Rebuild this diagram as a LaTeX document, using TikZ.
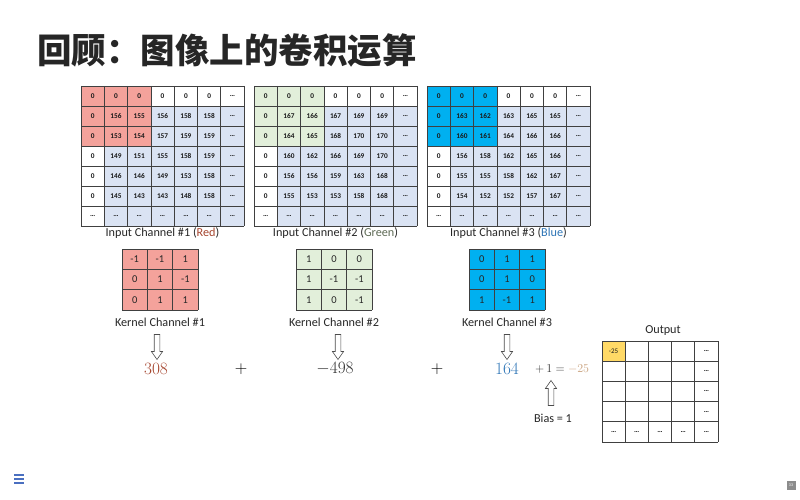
\documentclass[tikz,border=0pt]{standalone}
\usepackage{fontspec}
\setmainfont{Carlito}
\newfontfamily\cjk{Noto Sans CJK SC}
\usepackage{amsmath}
\usetikzlibrary{positioning, shapes.arrows}
\definecolor{chred}{HTML}{F4A29B}
\definecolor{chgreen}{HTML}{E2EFDA}
\definecolor{chblue}{HTML}{00B0F0}
\definecolor{padgray}{HTML}{DAE3F3}
\definecolor{outyellow}{HTML}{FFD966}
\definecolor{redtxt}{HTML}{A5452E}
\definecolor{greentxt}{HTML}{5E6A55}
\definecolor{bluetxt}{HTML}{2E75B6}
\definecolor{restxt}{HTML}{C9A27E}
\definecolor{menublue}{HTML}{4A6FC0}
\tikzset{
  gridline/.style={draw=black!75, line width=0.7pt},
  num/.style={font=\fontsize{7.3}{8}\selectfont\bfseries, text=black!90, inner sep=0pt},
  knum/.style={font=\fontsize{10.5}{12}\selectfont, text=black!85, inner sep=0pt},
  lab/.style={font=\fontsize{12.2}{14}\selectfont, text=black!85, inner sep=0pt},
  bignum/.style={font=\fontsize{18}{21}\selectfont, inner sep=0pt},
  hollowdn/.style={single arrow, draw=black!70, fill=white, line width=0.6pt,
    rotate=-90, minimum height=25pt, inner sep=2.5pt,
    single arrow head extend=2.8pt, single arrow tip angle=70},
  hollowup/.style={hollowdn, rotate=180}
}

\begin{document}
\begin{tikzpicture}[x=1pt, y=-1pt]
  \useasboundingbox (0,0) rectangle (800,500);

  % title
  \node[anchor=west, inner sep=0pt, text=black!85, font=\fontsize{34.5}{40}\selectfont\cjk\bfseries] (title) at (37,50) {回顾：图像上的卷积运算};

  % input channels
  \foreach \x/\c in {81/chred, 254/chgreen, 427/chblue} {
    \fill[padgray] (\x+23.3,106) rectangle (\x+163.1,226);
    \fill[\c] (\x,86) rectangle (\x+69.9,146);
    \foreach \i in {0,...,7}
      \draw[gridline] (\x,86+20*\i) -- (\x+163.1,86+20*\i);
    \foreach \j in {0,...,7}
      \draw[gridline] (\x+23.3*\j,86) -- (\x+23.3*\j,226);
  }
  \foreach \vals [count=\i from 0] in {{0,0,0,0,0,0,\ldots},{0,156,155,156,158,158,\ldots},{0,153,154,157,159,159,\ldots},{0,149,151,155,158,159,\ldots},{0,146,146,149,153,158,\ldots},{0,145,143,143,148,158,\ldots},{\ldots,\ldots,\ldots,\ldots,\ldots,\ldots,\ldots}}
    \foreach \v [count=\j from 0] in \vals
      \node[num] (r-\i-\j) at (92.65+23.3*\j,96+20*\i) {\v};
  \foreach \vals [count=\i from 0] in {{0,0,0,0,0,0,\ldots},{0,167,166,167,169,169,\ldots},{0,164,165,168,170,170,\ldots},{0,160,162,166,169,170,\ldots},{0,156,156,159,163,168,\ldots},{0,155,153,153,158,168,\ldots},{\ldots,\ldots,\ldots,\ldots,\ldots,\ldots,\ldots}}
    \foreach \v [count=\j from 0] in \vals
      \node[num] (g-\i-\j) at (265.65+23.3*\j,96+20*\i) {\v};
  \foreach \vals [count=\i from 0] in {{0,0,0,0,0,0,\ldots},{0,163,162,163,165,165,\ldots},{0,160,161,164,166,166,\ldots},{0,156,158,162,165,166,\ldots},{0,155,155,158,162,167,\ldots},{0,154,152,152,157,167,\ldots},{\ldots,\ldots,\ldots,\ldots,\ldots,\ldots,\ldots}}
    \foreach \v [count=\j from 0] in \vals
      \node[num] (b-\i-\j) at (438.65+23.3*\j,96+20*\i) {\v};

  \node[lab] (in1) at (162.5,233) {Input Channel \#1 (\textcolor{redtxt}{Red})};
  \node[lab] (in2) at (335.5,233) {Input Channel \#2 (\textcolor{greentxt}{Green})};
  \node[lab] (in3) at (508.5,233) {Input Channel \#3 (\textcolor{bluetxt}{Blue})};

  % kernels
  \foreach \x/\c in {122/chred, 296/chgreen, 469/chblue} {
    \fill[\c] (\x,249) rectangle (\x+76,310);
    \foreach \i in {0,...,3}
      \draw[gridline] (\x,249+20.33*\i) -- (\x+76,249+20.33*\i);
    \foreach \j in {0,...,3}
      \draw[gridline] (\x+25.33*\j,249) -- (\x+25.33*\j,310);
  }
  \foreach \vals [count=\i from 0] in {{-1,-1,1},{0,1,-1},{0,1,1}}
    \foreach \v [count=\j from 0] in \vals
      \node[knum] (kr-\i-\j) at (134.67+25.33*\j,259.2+20.33*\i) {\v};
  \foreach \vals [count=\i from 0] in {{1,0,0},{1,-1,-1},{1,0,-1}}
    \foreach \v [count=\j from 0] in \vals
      \node[knum] (kg-\i-\j) at (308.67+25.33*\j,259.2+20.33*\i) {\v};
  \foreach \vals [count=\i from 0] in {{0,1,1},{0,1,0},{1,-1,1}}
    \foreach \v [count=\j from 0] in \vals
      \node[knum] (kb-\i-\j) at (481.67+25.33*\j,259.2+20.33*\i) {\v};

  \node[lab] (k1) at (160,322) {Kernel Channel \#1};
  \node[lab] (k2) at (334,322) {Kernel Channel \#2};
  \node[lab] (k3) at (507,322) {Kernel Channel \#3};

  % arrows and sums
  \node[hollowdn] (a1) at (157,345) {};
  \node[hollowdn] (a2) at (338,345) {};
  \node[hollowdn] (a3) at (507,345) {};
  \node[bignum, text=redtxt] (n1) at (156,369) {$308$};
  \node[bignum] (p1) at (241,369) {$+$};
  \node[bignum, text=black!80] (n2) at (335,369) {$-498$};
  \node[bignum] (p2) at (437,369) {$+$};
  \node[bignum, text=bluetxt] (n3) at (507,369) {$164$};
  \node[inner sep=0pt, font=\fontsize{13}{15}\selectfont, text=black!80, anchor=west] (sum) at (535,369) {$+\,1 = \textcolor{restxt}{-25}$};
  \node[hollowup] (a4) at (551,395) {};
  \node[lab] (bias) at (553,418) {Bias = 1};

  % output
  \node[lab] (outlab) at (663,331) {Output};
  \fill[outyellow] (602,341) rectangle (625.2,361.2);
  \foreach \i in {0,...,5}
    \draw[gridline] (602,341+20.2*\i) -- (718,341+20.2*\i);
  \foreach \j in {0,...,5}
    \draw[gridline] (602+23.2*\j,341) -- (602+23.2*\j,442);
  \node[num, font=\fontsize{7}{8}\selectfont] (o-0-0) at (613.6,351.1) {-25};
  \foreach \i in {0,...,3}
    \node[num] (o-\i-4) at (706.4,351.1+20.2*\i) {\ldots};
  \foreach \j in {0,...,4}
    \node[num] (o-4-\j) at (613.6+23.2*\j,431.9) {\ldots};

  % footer
  \foreach \y in {475,479,483}
    \draw[menublue, line width=1.4pt] (14,\y) -- (24,\y);
  \node[fill=black!45, minimum size=9pt, inner sep=0pt, text=white, font=\fontsize{4}{4}\selectfont] (page) at (791,485) {33};
\end{tikzpicture}
\end{document}
